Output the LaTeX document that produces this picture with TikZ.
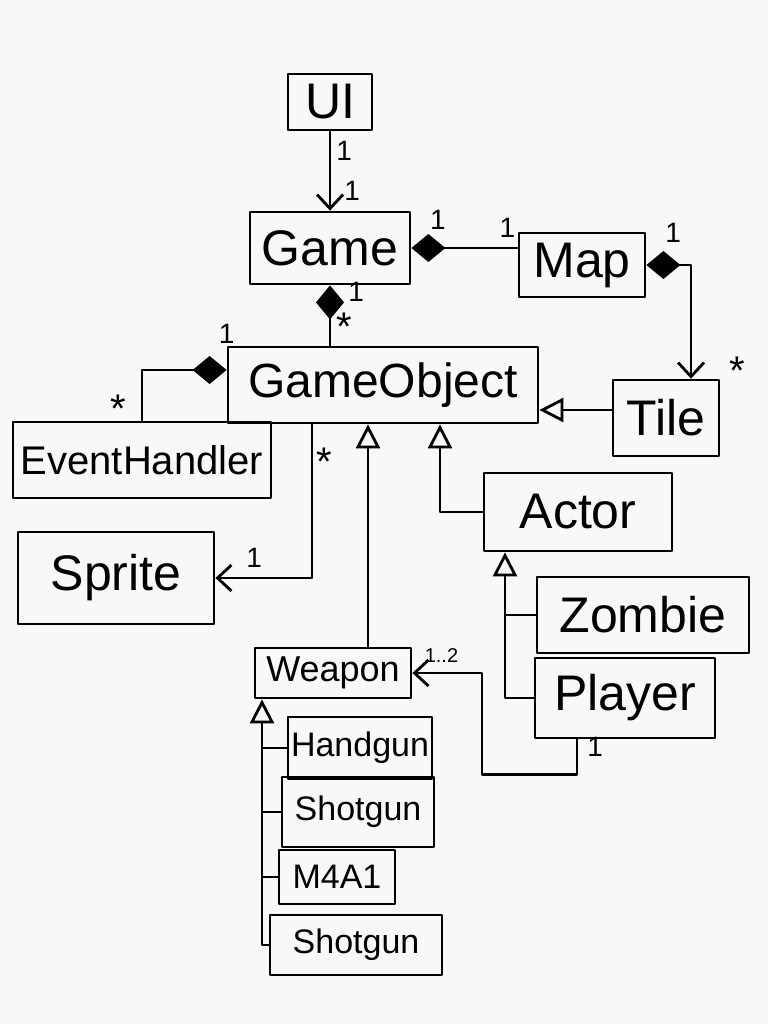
\documentclass[tikz,border=0pt]{standalone}
\usepackage{fontspec}
\setmainfont{Liberation Sans}
\usetikzlibrary{arrows.meta,positioning}
\definecolor{paper}{HTML}{F8F8F6}

\begin{document}
\begin{tikzpicture}[x=1pt,y=-1pt,line width=2.8pt,line join=round,
    >={Straight Barb[length=14pt,width=26pt]},
    cls/.style={draw,rectangle,inner sep=2pt,font=\fontsize{50}{54}\selectfont},
    sub/.style={cls,font=\fontsize{34}{38}\selectfont},
    mult/.style={font=\fontsize{28}{30}\selectfont,inner sep=1pt},
    many/.style={mult,font=\fontsize{40}{40}\selectfont},
    comp/.style={{Diamond[length=34pt,width=28pt]}-},
    compto/.style={{Diamond[length=34pt,width=28pt]}->},
    inh/.style={-{Triangle[open,length=24pt,width=24pt]}}]

\fill[paper] (0,0) rectangle (768,1024);

\node[cls,minimum width=84pt,minimum height=56pt] (UI) at (330,102) {UI};
\node[cls,minimum width=160pt,minimum height=72pt] (Game) at (330,248) {Game};
\node[cls,minimum width=126pt,minimum height=64pt] (Map) at (582,265) {Map};
\node[cls,minimum width=310pt,minimum height=76pt,font=\fontsize{48}{52}\selectfont] (GameObject) at (383,385) {GameObject};
\node[cls,minimum width=106pt,minimum height=76pt] (Tile) at (666,418) {Tile};
\node[cls,minimum width=258pt,minimum height=76pt,font=\fontsize{40}{44}\selectfont] (EventHandler) at (142,460) {EventHandler};
\node[cls,minimum width=188pt,minimum height=78pt] (Actor) at (578,512) {Actor};
\node[cls,minimum width=196pt,minimum height=92pt] (Sprite) at (116,578) {Sprite};
\node[cls,minimum width=212pt,minimum height=76pt] (Zombie) at (643,615) {Zombie};
\node[cls,minimum width=180pt,minimum height=80pt] (Player) at (625,698) {Player};
\node[sub,minimum width=156pt,minimum height=50pt,font=\fontsize{36}{40}\selectfont] (Weapon) at (333,673) {Weapon};
\node[sub,minimum width=144pt,minimum height=62pt] (Handgun) at (360,748) {Handgun};
\node[sub,minimum width=152pt,minimum height=70pt] (Shotgun) at (358,812) {Shotgun};
\node[sub,minimum width=116pt,minimum height=54pt] (M4A1) at (337,877) {M4A1};
\node[sub,minimum width=172pt,minimum height=60pt] (Shotgun2) at (356,945) {Shotgun};

\coordinate (actorbus) at ([xshift=-73pt]Actor.south);
\coordinate (weaponbus) at ([xshift=-71pt]Weapon.south);

\draw[->] (UI.south) -- (Game.north)
    node[mult,near start,right=4pt] {1}
    node[mult,near end,right=12pt] {1};
\draw[comp] (Game.east) -- (Game.east -| Map.west)
    node[mult,pos=0.25,above=16pt] {1}
    node[mult,pos=1,above left=8pt and 0pt] {1};
\draw[compto] (Map.east) -| ([xshift=25pt]Tile.north)
    node[mult,pos=0.3,above=20pt] {1}
    node[many,pos=1,above right=-8pt and 36pt] {*};
\draw[comp] (Game.south) -- (Game.south |- GameObject.north)
    node[mult,pos=0.1,right=16pt] {1}
    node[many,pos=0.68,right=4pt] {*};
\draw[comp] ([yshift=15pt]GameObject.west) -| (EventHandler.north)
    node[mult,pos=0,above=24pt] {1}
    node[many,pos=1,above left=-4pt and 14pt] {*};
\draw[->] ([xshift=-71pt]GameObject.south) |- (Sprite.east)
    node[many,pos=0.12,right=2pt] {*}
    node[mult,pos=0.8,above=8pt] {1};

\draw[inh] ([yshift=8pt]Tile.west) -- ([yshift=8pt]Tile.west -| GameObject.east);
\draw[inh] ([xshift=35pt]Weapon.north) -- ([xshift=35pt]Weapon.north |- GameObject.south);
\draw[inh] (Actor.west) -| ([xshift=57pt]GameObject.south);

\draw[inh] (Player.west) -| (actorbus);
\draw (Zombie.west) -- (Zombie.west -| actorbus);

\draw[inh] (Shotgun2.west) -| (weaponbus);
\draw (Handgun.west) -- (Handgun.west -| weaponbus);
\draw (Shotgun.west) -- (Shotgun.west -| weaponbus);
\draw (M4A1.west) -- (M4A1.west -| weaponbus);

\draw[->] ([xshift=-48pt]Player.south) |- ++(-95,35)
    node[mult,pos=0.1,right=8pt] {1}
    |- (Weapon.east)
    node[mult,pos=1,above right=8pt and 10pt,font=\fontsize{20}{22}\selectfont] {1..2};

\end{tikzpicture}
\end{document}
